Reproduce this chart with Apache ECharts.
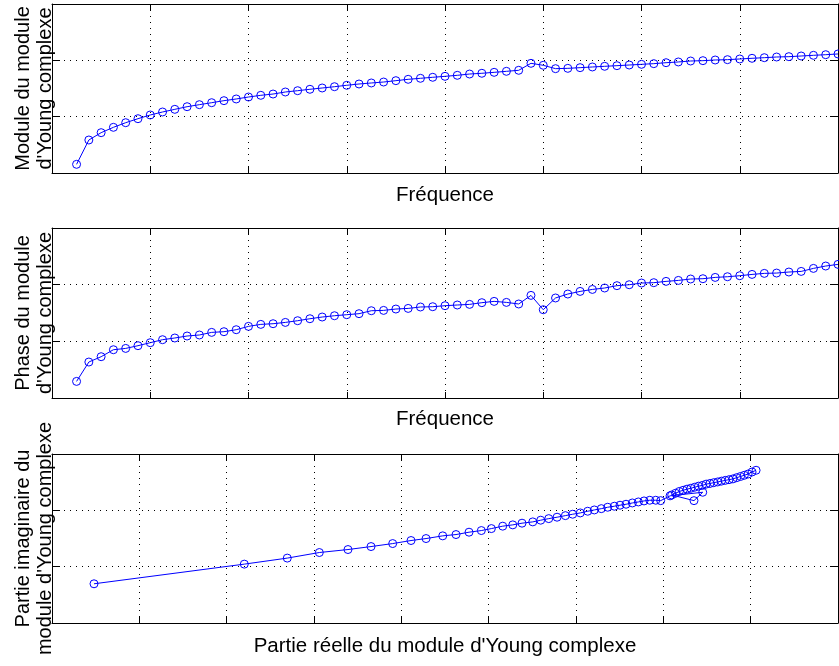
<!DOCTYPE html>
<html>
<head>
<meta charset="utf-8">
<script src="https://cdn.jsdelivr.net/npm/echarts@6/dist/echarts.min.js"></script>
<style>
html,body{margin:0;padding:0;background:#fff;}
#chart{width:839px;height:666px;}
</style>
</head>
<body>
<div id="chart"></div>
<script>
// ---- data ----
var frequency = [0.25,0.375,0.5,0.625,0.75,0.875,1,1.125,1.25,1.375,1.5,1.625,1.75,1.875,2,2.125,2.25,2.375,2.5,2.625,2.75,2.875,3,3.125,3.25,3.375,3.5,3.625,3.75,3.875,4,4.125,4.25,4.375,4.5,4.625,4.75,4.875,5,5.125,5.25,5.375,5.5,5.625,5.75,5.875,6,6.125,6.25,6.375,6.5,6.625,6.75,6.875,7,7.125,7.25,7.375,7.5,7.625,7.75,7.875,8];

var modulus = [0.154,0.586,0.716,0.811,0.893,0.964,1.030,1.083,1.130,1.177,
  1.213,1.248,1.284,1.314,1.349,1.379,1.402,1.438,1.461,1.486,
  1.509,1.532,1.557,1.580,1.598,1.615,1.639,1.663,1.681,1.699,
  1.716,1.734,1.757,1.770,1.787,1.805,1.823,1.947,1.912,1.852,
  1.858,1.870,1.882,1.894,1.905,1.917,1.929,1.941,1.958,1.971,
  1.988,1.994,2.006,2.012,2.024,2.036,2.047,2.059,2.065,2.077,
  2.089,2.100,2.113];

var phase = [0.293,0.635,0.729,0.852,0.875,0.923,0.976,1.029,1.059,1.094,
  1.112,1.158,1.170,1.205,1.264,1.299,1.311,1.334,1.364,1.399,
  1.429,1.452,1.470,1.488,1.540,1.546,1.570,1.581,1.606,1.611,
  1.629,1.641,1.652,1.682,1.705,1.687,1.659,1.811,1.558,1.765,
  1.835,1.881,1.916,1.941,1.982,1.999,2.029,2.035,2.058,2.075,
  2.100,2.105,2.128,2.140,2.158,2.181,2.199,2.205,2.223,2.234,
  2.287,2.329,2.358];

var realPart = [0.481,2.202,2.694,3.061,3.389,3.653,3.901,4.111,4.283,4.474,
  4.626,4.775,4.916,5.031,5.161,5.276,5.382,5.505,5.596,5.688,
  5.783,5.878,5.962,6.049,6.134,6.210,6.290,6.363,6.439,6.504,
  6.573,6.645,6.714,6.779,6.845,6.913,6.970,7.077,7.451,7.351,
  7.096,7.140,7.183,7.227,7.271,7.315,7.358,7.402,7.446,7.490,
  7.534,7.577,7.622,7.665,7.709,7.752,7.797,7.840,7.884,7.927,
  7.971,8.016,8.062];

var imagPart = [0.696,1.045,1.152,1.251,1.304,1.357,1.410,1.464,1.499,1.547,
  1.570,1.612,1.641,1.676,1.719,1.742,1.772,1.795,1.825,1.853,
  1.878,1.906,1.931,1.954,1.984,2.007,2.030,2.055,2.073,2.091,
  2.108,2.131,2.149,2.167,2.179,2.179,2.172,2.257,2.321,2.172,
  2.273,2.303,2.335,2.356,2.376,2.392,2.410,2.429,2.442,2.465,
  2.477,2.491,2.504,2.518,2.532,2.544,2.558,2.580,2.601,2.622,
  2.645,2.681,2.711];

var xTitles = ["Fréquence", "Fréquence", "Partie réelle du module d'Young complexe"];
var yTitles = ["Module du module\nd'Young complexe", "Phase du module\nd'Young complexe", "Partie imaginaire du\nmodule d'Young complexe"];
var xMax = [8, 8, 9];
var yMax = [3, 3, 3];

// ---- build options ----
var FONT = "'Liberation Sans', Arial, Helvetica, sans-serif";
var grids = [
  {left: 52, top: 4, width: 786, height: 169},
  {left: 52, top: 228, width: 786, height: 170},
  {left: 52, top: 454, width: 786, height: 169}
];
var gridDots = {show: true, lineStyle: {color: '#000', width: 1, type: [1, 5]}};
var xAxes = [], yAxes = [];
var xGaps = [12, 11, 13];
grids.forEach(function (g, i) {
  xAxes.push({
    type: 'value', gridIndex: i, position: 'bottom', min: 0, max: xMax[i], interval: 1,
    name: xTitles[i], nameLocation: 'middle', nameGap: xGaps[i],
    nameTextStyle: {fontFamily: FONT, fontSize: 20.5, color: '#000'},
    axisLine: {show: true, onZero: false, lineStyle: {color: '#000', width: 1}},
    axisTick: {show: true, inside: true, length: 6, lineStyle: {color: '#000'}},
    axisLabel: {show: false},
    splitLine: gridDots
  });
  xAxes.push({
    type: 'value', gridIndex: i, position: 'top', min: 0, max: xMax[i], interval: 1,
    axisLine: {show: true, onZero: false, lineStyle: {color: '#000', width: 1}},
    axisTick: {show: true, inside: true, length: 6, lineStyle: {color: '#000'}},
    axisLabel: {show: false}, splitLine: {show: false}
  });
  yAxes.push({
    type: 'value', gridIndex: i, position: 'left', min: 0, max: yMax[i], interval: 1,
    name: yTitles[i], nameLocation: 'middle', nameRotate: 90, nameGap: -4,
    nameTextStyle: {fontFamily: FONT, fontSize: 20, lineHeight: 22, color: '#000', align: 'center'},
    axisLine: {show: true, onZero: false, lineStyle: {color: '#000', width: 1}},
    axisTick: {show: true, inside: true, length: 8, lineStyle: {color: '#000'}},
    axisLabel: {show: false},
    splitLine: gridDots
  });
  yAxes.push({
    type: 'value', gridIndex: i, position: 'right', min: 0, max: yMax[i], interval: 1,
    axisLine: {show: true, onZero: false, lineStyle: {color: '#000', width: 1}},
    axisTick: {show: true, inside: true, length: 8, lineStyle: {color: '#000'}},
    axisLabel: {show: false}, splitLine: {show: false}
  });
});

function pairs(xs, ys) {
  return xs.map(function (x, i) { return [x, ys[i]]; });
}
function lineSeries(idx, data) {
  return {
    type: 'line', xAxisIndex: idx * 2, yAxisIndex: idx * 2, data: data,
    symbol: 'circle', symbolSize: 8, showSymbol: true, clip: false,
    lineStyle: {color: '#0000ff', width: 1},
    itemStyle: {color: 'rgba(0,0,0,0)', borderColor: '#0000ff', borderWidth: 1},
    emphasis: {disabled: true}, silent: true
  };
}

var chart = echarts.init(document.getElementById('chart'), null, {renderer: 'canvas'});
chart.setOption({
  animation: false,
  backgroundColor: '#fff',
  grid: grids,
  xAxis: xAxes,
  yAxis: yAxes,
  series: [
    lineSeries(0, pairs(frequency, modulus)),
    lineSeries(1, pairs(frequency, phase)),
    lineSeries(2, pairs(realPart, imagPart))
  ]
});
</script>
</body>
</html>
